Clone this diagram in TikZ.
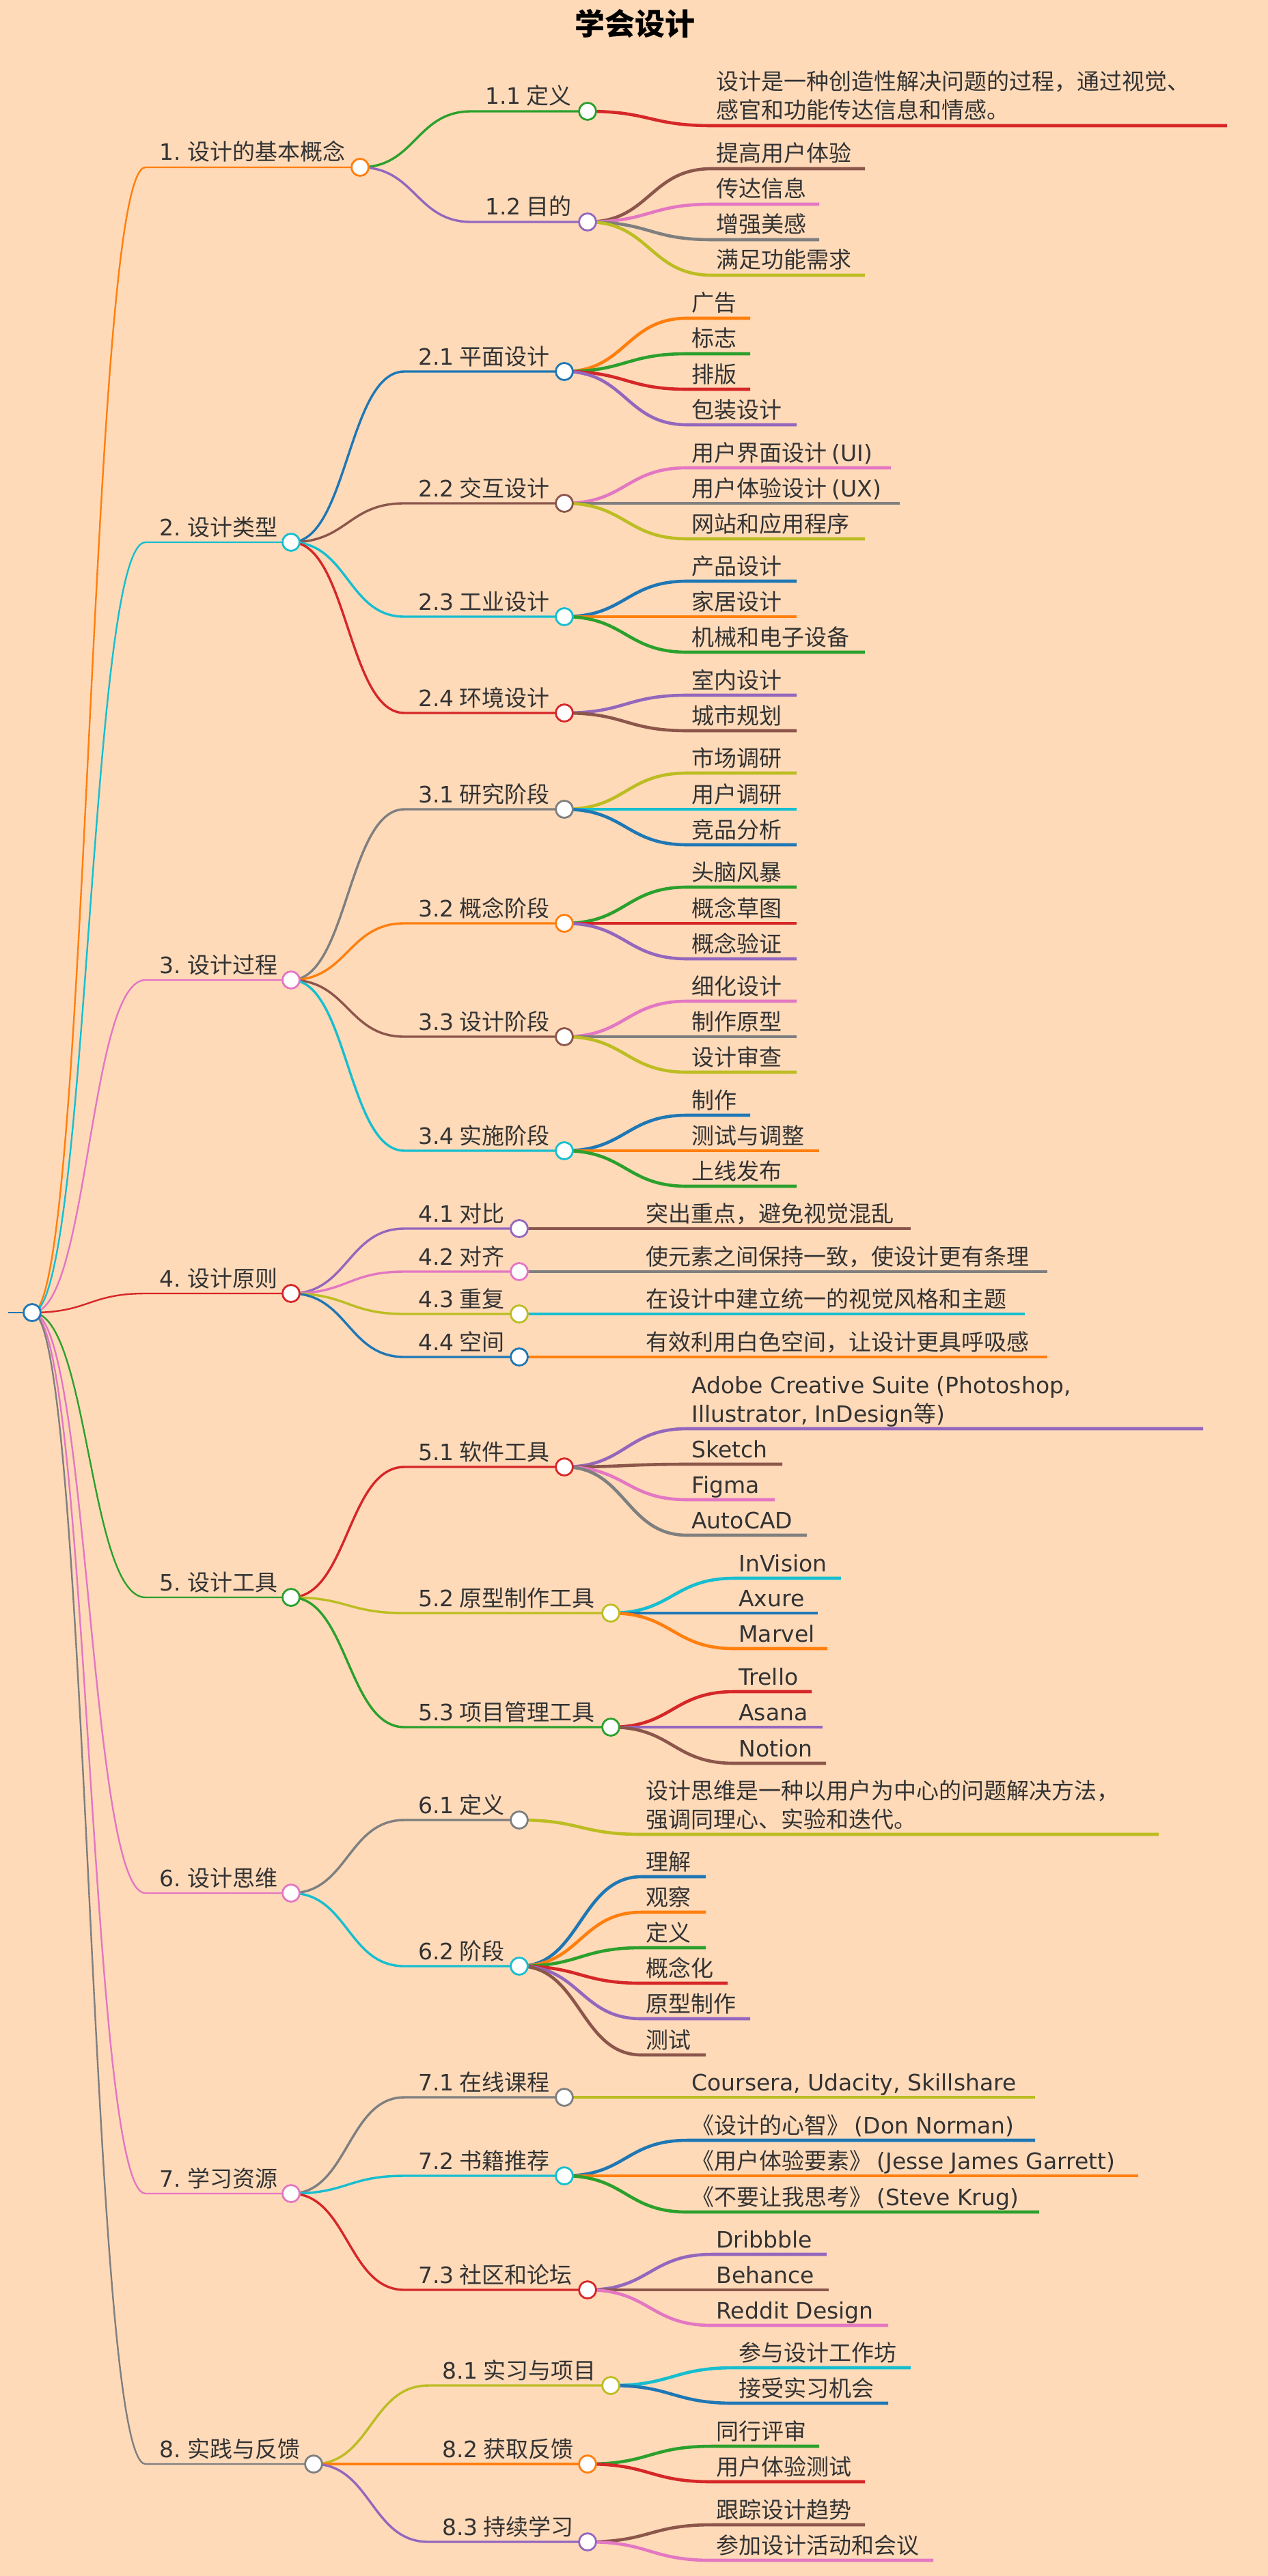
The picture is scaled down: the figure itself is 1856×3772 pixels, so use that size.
\documentclass[tikz,border=0pt]{standalone}
\usepackage{fontspec}
\setmainfont{Noto Sans CJK SC}
\newfontfamily\lt{DejaVu Sans}
\definecolor{bg}{HTML}{FFDAB9}
\definecolor{tx}{HTML}{333333}
\definecolor{cb}{HTML}{1F77B4}
\definecolor{co}{HTML}{FF7F0E}
\definecolor{cg}{HTML}{2CA02C}
\definecolor{cr}{HTML}{D62728}
\definecolor{cp}{HTML}{9467BD}
\definecolor{cn}{HTML}{8C564B}
\definecolor{ck}{HTML}{E377C2}
\definecolor{cy}{HTML}{7F7F7F}
\definecolor{cl}{HTML}{BCBD22}
\definecolor{cc}{HTML}{17BECF}
\pgfdeclarelayer{front}
\pgfsetlayers{main,front}
\tikzset{
  lbl/.style={inner sep=0pt,text=tx,font=\fontsize{16.5}{20}\selectfont},
  dot/.style={circle,inner sep=0pt,minimum size=12.5pt,line width=1.4pt,fill=white},
}
% branch with circle: px py color lw xs y xc label
\newcommand\br[8]{%
  \draw[#3,line width=#4] (#1,#2) .. controls ({(#1+#5)/2},#2) and ({(#1+#5)/2},#6) .. (#5,#6) -- (#7,#6);
  \node[lbl,anchor=base west] at (#5+20,#6-10) {#8};
  \begin{pgfonlayer}{front}\node[dot,draw=#3] at (#7,#6) {};\end{pgfonlayer}}
% leaf: px py color xs y xe label
\newcommand\lf[7]{%
  \draw[#3,line width=2.3pt] (#1,#2) .. controls ({(#1+#4)/2},#2) and ({(#1+#4)/2},#5) .. (#4,#5) -- (#6,#5);
  \node[lbl,anchor=base west] at (#4+6,#5-10) {#7};}
\newcommand\lfb[8]{%
  \draw[#3,line width=2.3pt] (#1,#2) .. controls ({(#1+#4)/2},#2) and ({(#1+#4)/2},#5) .. (#4,#5) -- (#6,#5);
  \node[lbl,anchor=base west] at (#4+6,#5-52) {#7};
  \node[lbl,anchor=base west] at (#4+6,#5-10) {#8};}
\begin{document}
\begin{tikzpicture}[x=0.5pt,y=-0.5pt]
\fill[bg] (0,0) rectangle (1856,3772);
\useasboundingbox (0,0) rectangle (1856,3772);
\node[text=black,inner sep=0pt,font=\fontsize{22}{26}\selectfont\bfseries] (title) at (929,35) {学会设计};
% root
\draw[cb,line width=1.4pt] (12,1922) -- (47,1922);
\begin{pgfonlayer}{front}\node[dot,draw=cb] (root) at (47,1922) {};\end{pgfonlayer}
% level 1
\br{47}{1922}{co}{1.2pt}{213}{245}{527}{{\lt 1.} 设计的基本概念}
\br{47}{1922}{cc}{1.2pt}{213}{794}{426}{{\lt 2.} 设计类型}
\br{47}{1922}{ck}{1.2pt}{213}{1435}{426}{{\lt 3.} 设计过程}
\br{47}{1922}{cr}{1.2pt}{213}{1894}{426}{{\lt 4.} 设计原则}
\br{47}{1922}{cg}{1.2pt}{213}{2339}{426}{{\lt 5.} 设计工具}
\br{47}{1922}{ck}{1.2pt}{213}{2772}{426}{{\lt 6.} 设计思维}
\br{47}{1922}{ck}{1.2pt}{213}{3212}{426}{{\lt 7.} 学习资源}
\br{47}{1922}{cy}{1.2pt}{213}{3608}{459}{{\lt 8.} 实践与反馈}
% level 2
\br{527}{245}{cg}{1.7pt}{690}{163}{860}{{\lt 1.1} 定义}
\br{527}{245}{cp}{1.7pt}{690}{325}{860}{{\lt 1.2} 目的}
\br{426}{794}{cb}{1.7pt}{592}{544}{826}{{\lt 2.1} 平面设计}
\br{426}{794}{cn}{1.7pt}{592}{737}{826}{{\lt 2.2} 交互设计}
\br{426}{794}{cc}{1.7pt}{592}{903}{826}{{\lt 2.3} 工业设计}
\br{426}{794}{cr}{1.7pt}{592}{1044}{826}{{\lt 2.4} 环境设计}
\br{426}{1435}{cy}{1.7pt}{592}{1185}{826}{{\lt 3.1} 研究阶段}
\br{426}{1435}{co}{1.7pt}{592}{1352}{826}{{\lt 3.2} 概念阶段}
\br{426}{1435}{cn}{1.7pt}{592}{1518}{826}{{\lt 3.3} 设计阶段}
\br{426}{1435}{cc}{1.7pt}{592}{1685}{826}{{\lt 3.4} 实施阶段}
\br{426}{1894}{cp}{1.7pt}{592}{1799}{760}{{\lt 4.1} 对比}
\br{426}{1894}{ck}{1.7pt}{592}{1862}{760}{{\lt 4.2} 对齐}
\br{426}{1894}{cl}{1.7pt}{592}{1924}{760}{{\lt 4.3} 重复}
\br{426}{1894}{cb}{1.7pt}{592}{1987}{760}{{\lt 4.4} 空间}
\br{426}{2339}{cr}{1.7pt}{592}{2148}{826}{{\lt 5.1} 软件工具}
\br{426}{2339}{cl}{1.7pt}{592}{2362}{894}{{\lt 5.2} 原型制作工具}
\br{426}{2339}{cg}{1.7pt}{592}{2529}{894}{{\lt 5.3} 项目管理工具}
\br{426}{2772}{cy}{1.7pt}{592}{2665}{760}{{\lt 6.1} 定义}
\br{426}{2772}{cc}{1.7pt}{592}{2879}{760}{{\lt 6.2} 阶段}
\br{426}{3212}{cy}{1.7pt}{592}{3071}{826}{{\lt 7.1} 在线课程}
\br{426}{3212}{cc}{1.7pt}{592}{3186}{826}{{\lt 7.2} 书籍推荐}
\br{426}{3212}{cr}{1.7pt}{592}{3353}{860}{{\lt 7.3} 社区和论坛}
\br{459}{3608}{cl}{1.7pt}{627}{3493}{894}{{\lt 8.1} 实习与项目}
\br{459}{3608}{co}{1.7pt}{627}{3608}{860}{{\lt 8.2} 获取反馈}
\br{459}{3608}{cp}{1.7pt}{627}{3722}{860}{{\lt 8.3} 持续学习}
% leaves
\lfb{860}{163}{cr}{1042}{184}{1796}{设计是一种创造性解决问题的过程，通过视觉、}{感官和功能传达信息和情感。}
\lf{860}{325}{cn}{1042}{247}{1266}{提高用户体验}
\lf{860}{325}{ck}{1042}{299}{1199}{传达信息}
\lf{860}{325}{cy}{1042}{351}{1199}{增强美感}
\lf{860}{325}{cl}{1042}{403}{1266}{满足功能需求}
\lf{826}{544}{co}{1006}{466}{1098}{广告}
\lf{826}{544}{cg}{1006}{518}{1098}{标志}
\lf{826}{544}{cr}{1006}{570}{1098}{排版}
\lf{826}{544}{cp}{1006}{622}{1166}{包装设计}
\lf{826}{737}{ck}{1006}{685}{1304}{用户界面设计 {\lt (UI)}}
\lf{826}{737}{cy}{1006}{737}{1317}{用户体验设计 {\lt (UX)}}
\lf{826}{737}{cl}{1006}{789}{1266}{网站和应用程序}
\lf{826}{903}{cb}{1006}{851}{1166}{产品设计}
\lf{826}{903}{co}{1006}{903}{1166}{家居设计}
\lf{826}{903}{cg}{1006}{955}{1266}{机械和电子设备}
\lf{826}{1044}{cp}{1006}{1018}{1166}{室内设计}
\lf{826}{1044}{cn}{1006}{1070}{1166}{城市规划}
\lf{826}{1185}{cl}{1006}{1132}{1166}{市场调研}
\lf{826}{1185}{cc}{1006}{1185}{1166}{用户调研}
\lf{826}{1185}{cb}{1006}{1237}{1166}{竞品分析}
\lf{826}{1352}{cg}{1006}{1299}{1166}{头脑风暴}
\lf{826}{1352}{cr}{1006}{1352}{1166}{概念草图}
\lf{826}{1352}{cp}{1006}{1404}{1166}{概念验证}
\lf{826}{1518}{ck}{1006}{1466}{1166}{细化设计}
\lf{826}{1518}{cy}{1006}{1518}{1166}{制作原型}
\lf{826}{1518}{cl}{1006}{1570}{1166}{设计审查}
\lf{826}{1685}{cb}{1006}{1633}{1098}{制作}
\lf{826}{1685}{co}{1006}{1685}{1199}{测试与调整}
\lf{826}{1685}{cg}{1006}{1737}{1166}{上线发布}
\lf{760}{1799}{cn}{939}{1799}{1333}{突出重点，避免视觉混乱}
\lf{760}{1862}{cy}{939}{1862}{1533}{使元素之间保持一致，使设计更有条理}
\lf{760}{1924}{cc}{939}{1924}{1500}{在设计中建立统一的视觉风格和主题}
\lf{760}{1987}{co}{939}{1987}{1533}{有效利用白色空间，让设计更具呼吸感}
\lfb{826}{2148}{cp}{1006}{2092}{1761}{\lt Adobe Creative Suite (Photoshop,}{{\lt Illustrator, InDesign}等{\lt )}}
\lf{826}{2148}{cn}{1006}{2144}{1145}{\lt Sketch}
\lf{826}{2148}{ck}{1006}{2196}{1134}{\lt Figma}
\lf{826}{2148}{cy}{1006}{2248}{1181}{\lt AutoCAD}
\lf{894}{2362}{cc}{1075}{2311}{1231}{\lt InVision}
\lf{894}{2362}{cb}{1075}{2362}{1197}{\lt Axure}
\lf{894}{2362}{co}{1075}{2414}{1211}{\lt Marvel}
\lf{894}{2529}{cr}{1075}{2477}{1188}{\lt Trello}
\lf{894}{2529}{cp}{1075}{2529}{1204}{\lt Asana}
\lf{894}{2529}{cn}{1075}{2582}{1209}{\lt Notion}
\lfb{760}{2665}{cl}{939}{2686}{1696}{设计思维是一种以用户为中心的问题解决方法，}{强调同理心、实验和迭代。}
\lf{760}{2879}{cb}{939}{2748}{1033}{理解}
\lf{760}{2879}{co}{939}{2800}{1033}{观察}
\lf{760}{2879}{cg}{939}{2852}{1033}{定义}
\lf{760}{2879}{cr}{939}{2904}{1065}{概念化}
\lf{760}{2879}{cp}{939}{2956}{1098}{原型制作}
\lf{760}{2879}{cn}{939}{3009}{1033}{测试}
\lf{826}{3071}{cl}{1006}{3071}{1515}{\lt Coursera, Udacity, Skillshare}
\lf{826}{3186}{cb}{1006}{3134}{1515}{《设计的心智》 {\lt (Don Norman)}}
\lf{826}{3186}{co}{1006}{3186}{1666}{《用户体验要素》 {\lt (Jesse James Garrett)}}
\lf{826}{3186}{cg}{1006}{3239}{1521}{《不要让我思考》 {\lt (Steve Krug)}}
\lf{860}{3353}{cp}{1042}{3301}{1210}{\lt Dribbble}
\lf{860}{3353}{cn}{1042}{3353}{1213}{\lt Behance}
\lf{860}{3353}{ck}{1042}{3405}{1300}{\lt Reddit Design}
\lf{894}{3493}{cc}{1075}{3467}{1333}{参与设计工作坊}
\lf{894}{3493}{cb}{1075}{3519}{1300}{接受实习机会}
\lf{860}{3608}{cg}{1042}{3582}{1199}{同行评审}
\lf{860}{3608}{cr}{1042}{3634}{1266}{用户体验测试}
\lf{860}{3722}{cn}{1042}{3697}{1266}{跟踪设计趋势}
\lf{860}{3722}{ck}{1042}{3749}{1366}{参加设计活动和会议}
\end{tikzpicture}
\end{document}
